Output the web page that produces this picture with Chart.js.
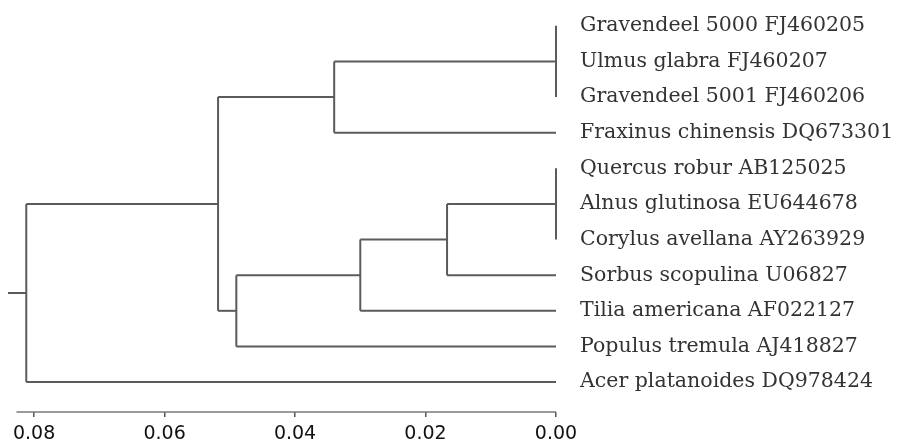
<!DOCTYPE html>
<html>
<head>
<meta charset="utf-8">
<script src="https://cdn.jsdelivr.net/npm/chart.js@4"></script>
<style>
body{margin:0;background:#fff;}
</style>
</head>
<body>
<canvas id="tree" width="898" height="442"></canvas>
<script>
// leaves, top to bottom
var leafNames = [
	'Gravendeel 5000 FJ460205',
	'Ulmus glabra FJ460207',
	'Gravendeel 5001 FJ460206',
	'Fraxinus chinensis DQ673301',
	'Quercus robur AB125025',
	'Alnus glutinosa EU644678',
	'Corylus avellana AY263929',
	'Sorbus scopulina U06827',
	'Tilia americana AF022127',
	'Populus tremula AJ418827',
	'Acer platanoides DQ978424'
];
// inner nodes, ids start after the leaves (11, 12, ...)
var nodeChildren = [[0,1,2],[4,5,6],[11,3],[12,7],[14,8],[15,9],[13,16],[17,10]];
var nodeHeights = [0, 0, 0.034, 0.0167, 0.030, 0.049, 0.0518, 0.0812];
var rootStub = 0.084;
var xTicks = [0, 0.02, 0.04, 0.06, 0.08];
var axisStart = 0.0827;

var yMin = -0.5, yMax = 10.84;
var lineColor = '#5b5b5b';

var posY = [], posH = [];
for(i=0;i<leafNames.length;i++){
	posY[i]=i;
	posH[i]=0;
}
var segs = [];
for(n=0;n<nodeChildren.length;n++){
	var id = leafNames.length+n;
	var ch = nodeChildren[n];
	var h = nodeHeights[n];
	var ys = ch.map(function(c){return posY[c];});
	var lo = Math.min.apply(null,ys), hi = Math.max.apply(null,ys);
	posY[id] = ys.reduce(function(a,b){return a+b;},0)/ys.length;
	posH[id] = h;
	segs.push([{x:h,y:lo},{x:h,y:hi}]);	// vertical
	ch.forEach(function(c){
		if(posH[c]!==h) segs.push([{x:posH[c],y:posY[c]},{x:h,y:posY[c]}]);
	});
}
var root = leafNames.length+nodeChildren.length-1;
segs.push([{x:posH[root],y:posY[root]},{x:rootStub,y:posY[root]}]);

var datasets = segs.map(function(s){
	return {data:s, showLine:true, borderColor:lineColor, borderWidth:2, pointRadius:0, clip:false};
});
// axis line
datasets.push({data:[{x:axisStart,y:yMax},{x:0,y:yMax}], showLine:true, borderColor:'#777', borderWidth:1.5, pointRadius:0, clip:false});

var chart = new Chart(document.getElementById('tree').getContext('2d'),{
	type:'scatter',
	data:{datasets:datasets},
	options:{
		responsive:false,
		animation:false,
		layout:{padding:{left:8,top:8,right:0,bottom:0}},
		plugins:{legend:{display:false},tooltip:{enabled:false}},
		scales:{
			x:{
				type:'linear',
				reverse:true,
				min:0,
				max:rootStub,
				afterBuildTicks:function(scale){
					scale.ticks = xTicks.map(function(v){return {value:v};});
				},
				afterFit:function(scale){
					scale.height=30;
					scale.paddingLeft=0;
					scale.paddingRight=0;
				},
				border:{display:false},
				grid:{drawOnChartArea:false, drawTicks:true, tickLength:5, color:'#555', lineWidth:1.5},
				ticks:{
					color:'#111',
					padding:6,
					font:{family:'DejaVu Sans', size:19},
					callback:function(value){return value.toFixed(2);}
				}
			},
			y:{
				type:'linear',
				position:'right',
				reverse:true,
				min:yMin,
				max:yMax,
				afterBuildTicks:function(scale){
					scale.ticks = leafNames.map(function(n,i){return {value:i};});
				},
				afterFit:function(scale){
					scale.width=342;
					scale.paddingTop=0;
					scale.paddingBottom=0;
				},
				border:{display:false},
				grid:{display:false},
				ticks:{
					color:'#333',
					padding:16,
					font:{family:'DejaVu Serif', size:20.5},
					callback:function(value){return leafNames[value];}
				}
			}
		}
	}
});
</script>
</body>
</html>
